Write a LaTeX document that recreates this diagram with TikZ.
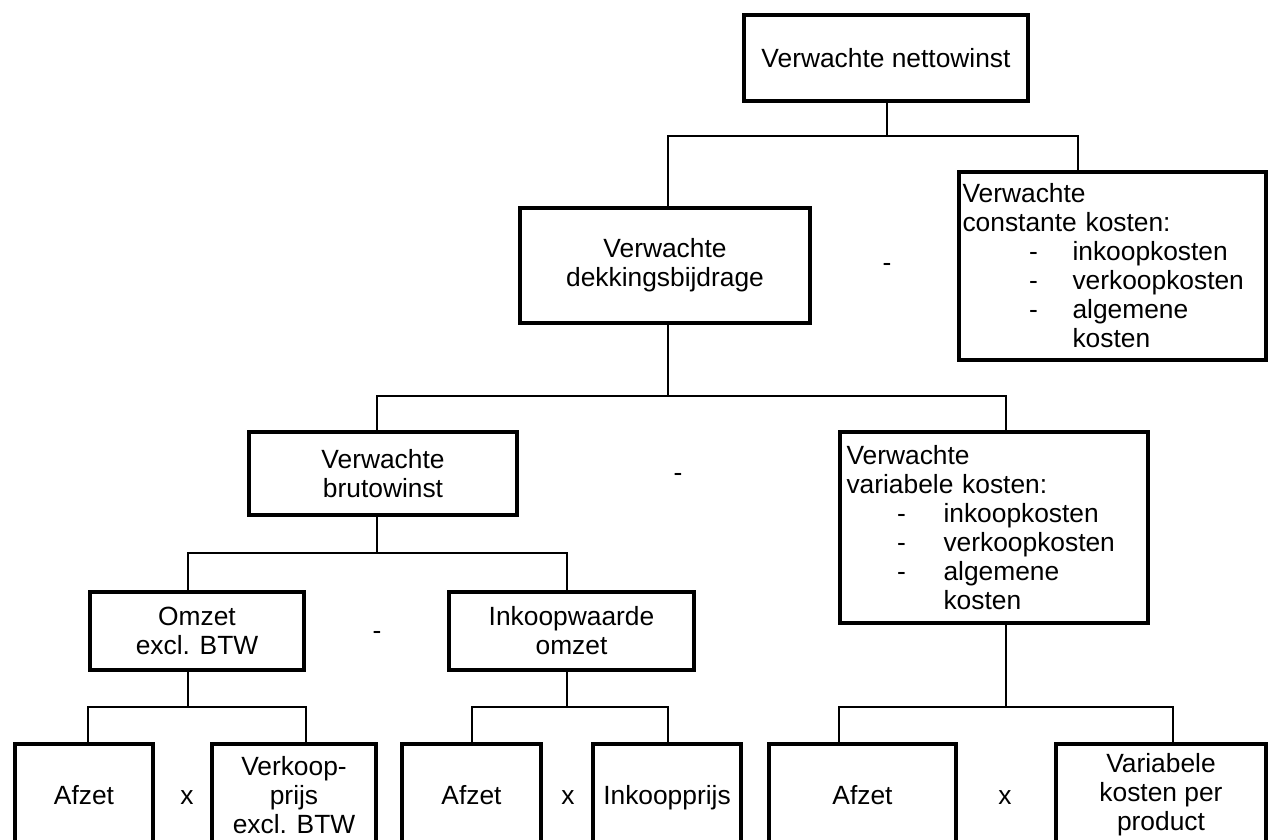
\documentclass[tikz,border=0pt]{standalone}
\usepackage{fontspec}
\setmainfont{Liberation Sans}
\newcommand{\kostpost}[3]{\hspace*{#1}\makebox[#2][l]{-}#3}

\begin{document}
\begin{tikzpicture}[x=0.02cm,y=-0.02cm,font=\fontsize{15}{16.5}\selectfont,
		blok/.style={draw,line width=2.3pt,align=center},
		lijst/.style={draw,line width=2.3pt,align=left,inner sep=2pt},
		verbinding/.style={line width=1.1pt}]
			\useasboundingbox (0,0) rectangle (1271,839);
			\clip (0,0) rectangle (1271,839);

			% boxes
			\node[blok,minimum width=5.68cm,minimum height=1.72cm] (netto) at (886,58) {Verwachte nettowinst};
			\node[blok,minimum width=5.8cm,minimum height=2.3cm] (dekking) at (665,265.5) {Verwachte\\dekkingsbijdrage};
			\node[lijst,text width=6.0cm,minimum width=6.14cm,minimum height=3.76cm] (constant) at (1112.5,266)
				{Verwachte\\constante kosten:\\\kostpost{1.33cm}{0.87cm}{inkoopkosten}\\\kostpost{1.33cm}{0.87cm}{verkoopkosten}\\\kostpost{1.33cm}{0.87cm}{algemene}\\\hspace*{2.2cm}kosten};
			\node[blok,minimum width=5.36cm,minimum height=1.66cm] (bruto) at (383,473.5) {Verwachte\\brutowinst};
			\node[lijst,text width=5.9cm,minimum width=6.16cm,minimum height=3.82cm] (variabel) at (994,527.5)
				{Verwachte\\variabele kosten:\\\kostpost{1.01cm}{0.93cm}{inkoopkosten}\\\kostpost{1.01cm}{0.93cm}{verkoopkosten}\\\kostpost{1.01cm}{0.93cm}{algemene}\\\hspace*{1.94cm}kosten};
			\node[blok,minimum width=4.28cm,minimum height=1.56cm] (omzet) at (197,631) {Omzet\\excl. BTW};
			\node[blok,minimum width=4.9cm,minimum height=1.56cm] (inkoopw) at (571.5,631) {Inkoopwaarde\\omzet};

			% bottom row
			\node[blok,minimum width=2.76cm,minimum height=2.04cm] (afzet1) at (84,795) {Afzet};
			\node[blok,minimum width=3.28cm,minimum height=2.04cm] (verkoop) at (294,795) {Verkoop-\\prijs\\excl. BTW};
			\node[blok,minimum width=2.78cm,minimum height=2.04cm] (afzet2) at (471.5,795) {Afzet};
			\node[blok,minimum width=2.96cm,minimum height=2.04cm,text depth=0pt] (inkoopprijs) at (667,795) {Inkoopprijs};
			\node[blok,minimum width=3.74cm,minimum height=2.04cm] (afzet3) at (862.5,795) {Afzet};
			\node[blok,minimum width=4.2cm,minimum height=2.04cm] (varprod) at (1161,795) {Variabele\\kosten per\\product};

			% signs
			\node (min1) at (887,267) {-};
			\node (min2) at (678,477) {-};
			\node (min3) at (377,635) {-};
			\node[anchor=base] (keer1) at (187,804) {x};
			\node[anchor=base] (keer2) at (568,804) {x};
			\node[anchor=base] (keer3) at (1005,804) {x};

			% lines
			\coordinate (jA) at (887,136);
			\coordinate (lA) at (668,136);
			\coordinate (rA) at (1078,136);
			\draw[verbinding] (netto.south -| jA) -- (jA);
			\draw[verbinding] (dekking.north -| lA) -- (lA) -- (rA) -- (constant.north -| rA);

			\coordinate (jB) at (668,396);
			\coordinate (lB) at (377,396);
			\coordinate (rB) at (1006,396);
			\draw[verbinding] (dekking.south -| jB) -- (jB);
			\draw[verbinding] (bruto.north -| lB) -- (lB) -- (rB) -- (variabel.north -| rB);

			\coordinate (jC) at (377,553);
			\coordinate (lC) at (188,553);
			\coordinate (rC) at (567,553);
			\draw[verbinding] (bruto.south -| jC) -- (jC);
			\draw[verbinding] (omzet.north -| lC) -- (lC) -- (rC) -- (inkoopw.north -| rC);

			\coordinate (jD) at (188,707);
			\coordinate (lD) at (88,707);
			\coordinate (rD) at (306,707);
			\draw[verbinding] (omzet.south -| jD) -- (jD);
			\draw[verbinding] (afzet1.north -| lD) -- (lD) -- (rD) -- (verkoop.north -| rD);

			\coordinate (jE) at (567,707);
			\coordinate (lE) at (472,707);
			\coordinate (rE) at (668,707);
			\draw[verbinding] (inkoopw.south -| jE) -- (jE);
			\draw[verbinding] (afzet2.north -| lE) -- (lE) -- (rE) -- (inkoopprijs.north -| rE);

			\coordinate (jF) at (1006,707);
			\coordinate (lF) at (839,707);
			\coordinate (rF) at (1173,707);
			\draw[verbinding] (variabel.south -| jF) -- (jF);
			\draw[verbinding] (afzet3.north -| lF) -- (lF) -- (rF) -- (varprod.north -| rF);
		\end{tikzpicture}
\end{document}
